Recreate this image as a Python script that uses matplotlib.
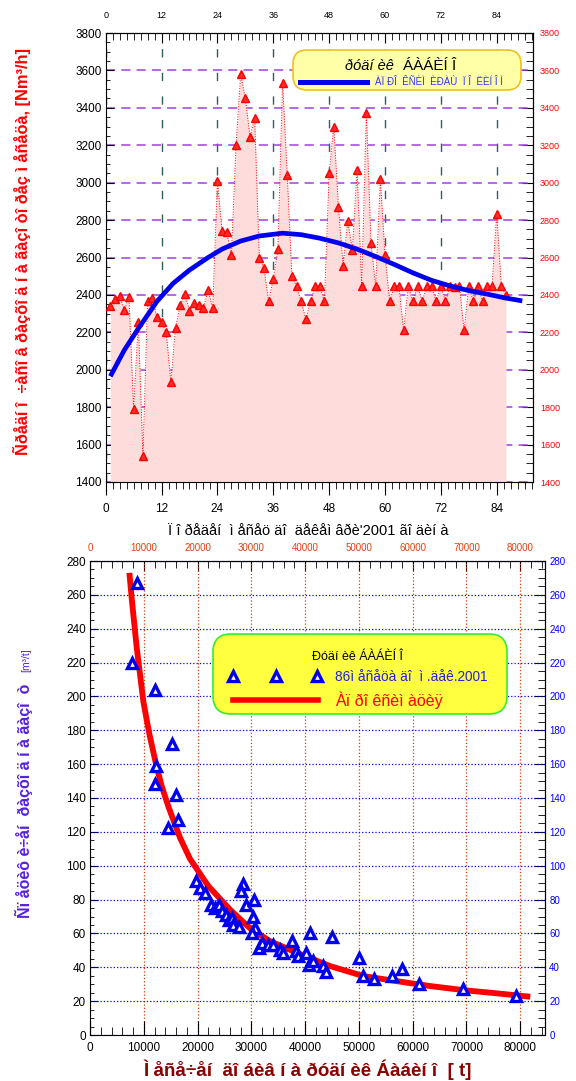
import matplotlib
matplotlib.use("Agg")
import matplotlib.pyplot as plt
from matplotlib.patches import FancyBboxPatch
from matplotlib.ticker import MultipleLocator

plt.rcParams['font.family'] = ['Liberation Sans', 'DejaVu Sans']

# --- top panel: monthly average gas flow, months 1..86
months = list(range(1, 87))
flow = [2340, 2380, 2395, 2320, 2390, 1790, 2255, 1540, 2370, 2385,
        2280, 2255, 2200, 1935, 2225, 2345, 2405, 2315, 2355, 2345,
        2330, 2425, 2330, 3010, 2740, 2735, 2615, 3200, 3580, 3450,
        3245, 3345, 2600, 2545, 2365, 2485, 2645, 3535, 3040, 2500,
        2445, 2365, 2270, 2365, 2445, 2445, 2365, 3050, 3300, 2870,
        2555, 2795, 2640, 3070, 2445, 3375, 2675, 2445, 3020, 2615,
        2365, 2445, 2445, 2210, 2445, 2365, 2445, 2365, 2445, 2445,
        2365, 2445, 2365, 2445, 2440, 2445, 2210, 2445, 2365, 2445,
        2365, 2445, 2445, 2835, 2445, 2400]

# approximating polynomial
poly_x = [1, 4, 7, 11, 14.5, 18, 22, 25, 29, 33, 38, 42, 46, 50, 54,
          58, 62, 66, 70, 74, 78, 82, 86, 89.5]
poly_y = [1965, 2105, 2220, 2365, 2462, 2533, 2600, 2645, 2688, 2715,
          2730, 2722, 2703, 2678, 2645, 2605, 2563, 2518, 2478, 2448,
          2423, 2404, 2383, 2368]
month_ticks = [0, 12, 24, 36, 48, 60, 72, 84]
flow_ticks = list(range(1400, 3801, 200))

# --- bottom panel: specific gas use vs monthly output
prod = [8690, 7880, 12090, 15190, 12280, 12090, 15940, 16430, 14570,
        19700, 20500, 21300, 22500, 23300, 24000, 24600, 25300, 25900,
        26480, 26670, 27720, 28400, 28100, 28960, 30570, 30390, 30700,
        30080, 31440, 32060, 33180, 33980, 35350, 35970, 37520, 38330,
        38760, 40190, 40930, 40740, 41550, 43290, 43850, 44960, 50100,
        50730, 52840, 56120, 57980, 61080, 69340, 79260]
spec = [267, 220, 204, 172, 159, 148.5, 141.5, 127, 122.5,
        91, 87, 84, 77, 75, 77, 73, 71, 68,
        69, 65, 64, 89, 85, 77, 80, 70, 63,
        60, 51.5, 54.5, 53, 53, 50.5, 48.5, 55.5, 49.5,
        46.5, 48.5, 60, 41.5, 43.5, 40.5, 37, 58, 45.5,
        35, 33, 35, 39, 30, 27, 23]

fit_x = [7320, 7750, 8680, 9920, 10670, 11160, 12280, 13330, 14570,
         15500, 16740, 18600, 22000, 26050, 29770, 33490, 38450, 44650,
         50850, 57050, 63260, 69460, 75660, 81860]
fit_y = [273, 258, 229, 197, 184, 176, 160, 147, 135, 127, 116.5,
         104, 88, 74, 63, 55.4, 48.6, 40.7, 34.8, 31.8, 28.9, 26.5, 24.6, 22.6]
prod_ticks = [0, 10000, 20000, 30000, 40000, 50000, 60000, 70000, 80000]
spec_ticks = list(range(0, 281, 20))

W, H = 576, 1081
fig = plt.figure(figsize=(W / 100, H / 100), dpi=100)


def box(l, t, r, b):
    return [l / W, 1 - b / H, (r - l) / W, (b - t) / H]


# ================= top panel =================
ax1 = fig.add_axes(box(105.7, 33, 533, 482))
ax1.set_xlim(0, 91.8)
ax1.set_ylim(1400, 3800)
ax1.set_axisbelow(True)
ax1.set_xticks(month_ticks)
ax1.xaxis.set_minor_locator(MultipleLocator(1.5))
ax1.set_yticks(flow_ticks)
ax1.yaxis.set_minor_locator(MultipleLocator(50))
ax1.yaxis.grid(True, color='#a040e0', ls=(0, (6, 4)), lw=1.1)
ax1.xaxis.grid(True, color='#2f5f5f', ls=(0, (6, 11)), lw=1.0)

ax1.fill_between(months, flow, 1400, color='#ffdcdc', lw=0, zorder=1)
ax1.plot(months, flow, color='red', ls=':', lw=0.7, marker='^', ms=5.5,
         mfc='#ff2a2a', mec='red', zorder=3)
ax1.plot(poly_x, poly_y, color='#0000ee', lw=3.4, zorder=4,
         solid_capstyle='butt')

ax1.tick_params(axis='y', which='major', direction='in', length=6,
                labelsize=8.5, pad=3)
ax1.tick_params(axis='y', which='minor', direction='in', length=3)
ax1.tick_params(axis='x', which='major', direction='out', length=9,
                labelsize=8.5, pad=6)
ax1.tick_params(axis='x', which='minor', direction='out', length=5)
ax1.set_xlabel("Ï î ðåäåí  ì åñåö äî  äåêåì âðè'2001 ãî äèí à",
               fontsize=10.5)
ax1.xaxis.set_label_coords(0.473, -0.094)
ax1.set_ylabel("Ñðåäí î  ÷àñî â ðàçõî ä í à ãàçî òî ðåç ì åñåöà, [Nm³/h]",
               color='red', fontsize=11.8, fontweight='bold')
ax1.yaxis.set_label_coords(-0.175, 0.514)

r1 = ax1.secondary_yaxis('right')
r1.set_yticks(flow_ticks)
r1.yaxis.set_minor_locator(MultipleLocator(50))
r1.tick_params(which='major', direction='in', length=8, labelsize=6.5,
               labelcolor='red', pad=5)
r1.tick_params(which='minor', direction='in', length=5)
t1 = ax1.secondary_xaxis('top')
t1.set_xticks(month_ticks)
t1.xaxis.set_minor_locator(MultipleLocator(1.5))
t1.tick_params(which='major', direction='in', length=7, labelsize=6.5,
               pad=9)
t1.tick_params(which='minor', direction='in', length=5)

# ================= bottom panel =================
ax2 = fig.add_axes(box(90, 561, 545, 1035))
ax2.set_xlim(0, 84600)
ax2.set_ylim(0, 280)
ax2.set_axisbelow(True)
ax2.set_xticks(prod_ticks)
ax2.xaxis.set_minor_locator(MultipleLocator(2000))
ax2.set_yticks(spec_ticks)
ax2.yaxis.set_minor_locator(MultipleLocator(5))
ax2.yaxis.grid(True, color='#0000ff', ls=':', lw=0.9)
ax2.xaxis.grid(True, color='#d04010', ls=':', lw=0.9)

ax2.plot(fit_x, fit_y, color='#ff0000', lw=4.2, zorder=3,
         solid_capstyle='butt')
ax2.plot(prod, spec, ls='none', marker='^', ms=6.5, mfc='white',
         mec='#0000ee', mew=2.4, zorder=4)

ax2.tick_params(axis='both', which='major', direction='in', labelsize=8.5)
ax2.tick_params(axis='x', which='major', length=10, pad=5)
ax2.tick_params(axis='x', which='minor', direction='in', length=6)
ax2.tick_params(axis='y', which='major', length=6, color='#000080', pad=3)
ax2.tick_params(axis='y', which='minor', direction='in', length=3)
ax2.set_xlabel("Ì åñå÷åí  äî áèâ í à ðóäí èê Áàáèí î  [ t]",
               color='#8b0000', fontsize=13.5, fontweight='bold')
ax2.xaxis.set_label_coords(0.478, -0.052)
ax2.set_ylabel("Ñï åöèô è÷åí  ðàçõî ä í à ãàçî  ò", color='#5522dd',
               fontsize=11.5, fontweight='bold')
ax2.yaxis.set_label_coords(-0.125, 0.494)

r2 = ax2.secondary_yaxis('right')
r2.set_yticks(spec_ticks)
r2.yaxis.set_minor_locator(MultipleLocator(5))
r2.tick_params(which='major', direction='in', length=8, labelsize=7,
               labelcolor='#0000ff', pad=3)
r2.tick_params(which='minor', direction='in', length=5)
t2 = ax2.secondary_xaxis('top')
t2.set_xticks(prod_ticks)
t2.xaxis.set_minor_locator(MultipleLocator(2000))
t2.tick_params(which='major', direction='in', length=7, labelsize=7,
               labelcolor='#e04010', pad=6)
t2.tick_params(which='minor', direction='in', length=5)

# ================= overlay for legends / extra text =================
ov = fig.add_axes([0, 0, 1, 1])
ov.set_xlim(0, W)
ov.set_ylim(H, 0)
ov.axis('off')

ov.add_patch(FancyBboxPatch((293, 50), 228, 40,
                            boxstyle="round,pad=0,rounding_size=14",
                            fc='#ffffa8', ec='#f0c020', lw=1.2))
ov.text(369, 66, "ðóäí èê", fontsize=10.5, style='italic', ha='center',
        va='center')
ov.text(430, 66, "ÁÀÁÈÍ Î", fontsize=11, ha='center', va='center')
ov.plot([300, 367], [82, 82], color='#0000ee', lw=3.6)
ov.text(375, 82, "ÀÏ ÐÎ  ÊÑÈÌ  ÈÐÀÙ  Ï Î  ËÈÍ Î Ì", fontsize=7,
        color='#3333ff', va='center')

ov.add_patch(FancyBboxPatch((213, 634), 294, 80,
                            boxstyle="round,pad=0,rounding_size=18",
                            fc='#ffff40', ec='#33ee33', lw=1.2))
ov.text(357, 657, "Ðóäí èê ÁÀÁÈÍ Î", fontsize=9, ha='center',
        va='center')
ov.plot([233, 276, 317], [676, 676, 676], ls='none', marker='^', ms=6.5,
        mfc='white', mec='#0000ee', mew=2.4)
ov.text(335, 677, "86ì åñåöà äî  ì .äåê.2001", fontsize=9.8,
        color='#2222dd', va='center')
ov.plot([233, 318], [700, 700], color='#ff0000', lw=4)
ov.text(335, 700, "Àï ðî êñèì àöèÿ", fontsize=11.5, color='#ff0000',
        va='center')
ov.text(26, 660, "[m³/t]", fontsize=7.5, color='#5522dd', rotation=90,
        ha='center', va='center')

fig.savefig("out.png", dpi=100)
